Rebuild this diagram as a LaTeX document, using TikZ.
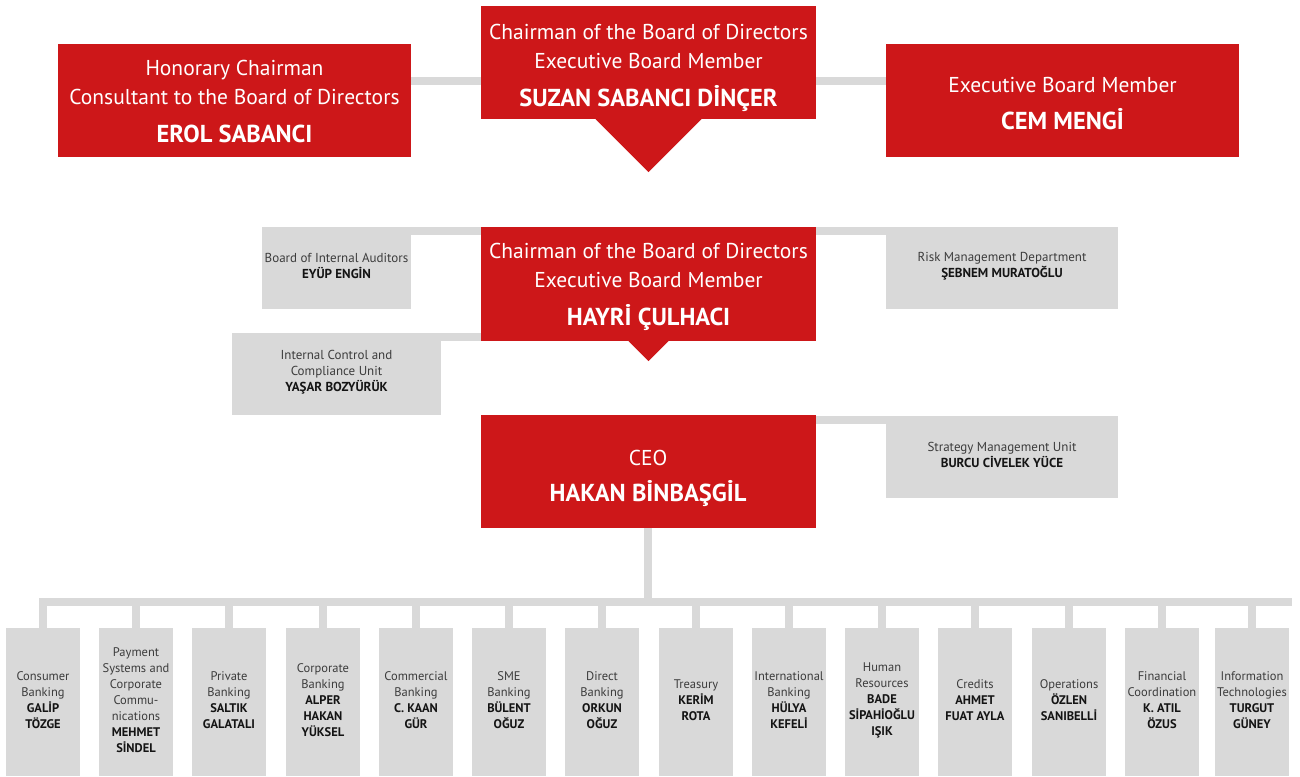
\documentclass[tikz,border=0pt]{standalone}
\usepackage{fontspec}
\setmainfont{PT Sans}
\definecolor{brand}{HTML}{CD1719}
\definecolor{boxgray}{HTML}{D9D9D9}
\definecolor{titlegray}{HTML}{3C3C3C}
\definecolor{namegray}{HTML}{141414}
\newcommand{\nm}[1]{{\bfseries\color{namegray}#1}}
\newcommand{\bn}[1]{{\fontsize{24.5}{28}\selectfont\bfseries #1}}
\begin{document}
\begin{tikzpicture}[x=1pt,y=-1pt,
  conn/.style={draw=boxgray,line width=8pt,line cap=butt},
  redbox/.style={fill=brand,inner sep=0pt},
  redtext/.style={text=white,inner sep=0pt,align=center,font=\fontsize{21.5}{29}\selectfont},
  graybox/.style={fill=boxgray,inner sep=0pt},
  graytext/.style={text=titlegray,inner sep=0pt,align=center,font=\fontsize{13}{16}\selectfont},
  unitbox/.style={graybox,minimum width=74pt,minimum height=148pt},
  unittext/.style={text=titlegray,inner sep=0pt,align=center,font=\fontsize{12.5}{16}\selectfont}]
\useasboundingbox (0,0) rectangle (1300,776);
\coordinate (y81) at (0,81);
\coordinate (busL) at (39,602);
\coordinate (busR) at (1292,602);

% ---------- box shapes ----------
\node[redbox,minimum width=353pt,minimum height=113pt] (erol) at (234.5,100.5) {};
\node[redbox,minimum width=335pt,minimum height=113pt] (suzan) at (648.5,62.5) {};
\node[redbox,minimum width=353pt,minimum height=113pt] (cem) at (1062.5,100.5) {};
\node[redbox,minimum width=335pt,minimum height=114pt] (hayri) at (648.5,284) {};
\node[redbox,minimum width=335pt,minimum height=113pt] (ceo) at (648,471.5) {};
\fill[brand] ([xshift=-53pt]suzan.south) -- ([yshift=-53pt]suzan.south) -- ([xshift=53pt]suzan.south) -- cycle;
\fill[brand] ([xshift=-20pt]hayri.south) -- ([yshift=-20pt]hayri.south) -- ([xshift=20pt]hayri.south) -- cycle;

\node[graybox,minimum width=149pt,minimum height=82pt] (aud) at (336.5,268) {};
\node[graybox,minimum width=209pt,minimum height=82pt] (icu) at (336.5,374) {};
\node[graybox,minimum width=232pt,minimum height=82pt] (risk) at (1002,268) {};
\node[graybox,minimum width=232pt,minimum height=82pt] (strat) at (1002,457) {};

\foreach \i/\x in {1/43,2/136,3/229,4/323,5/416,6/509,7/602,8/696,9/789,10/882,11/975,12/1069,13/1162,14/1252}
  {\node[unitbox] (u\i) at (\x,702) {};}

% ---------- connectors ----------
\draw[conn] (erol.east |- y81) -- (suzan.west |- y81);
\draw[conn] (suzan.east |- y81) -- (cem.west |- y81);
\coordinate (c1) at ([yshift=-4pt]aud.north east);
\coordinate (c2) at ([yshift=-4pt]icu.north east);
\coordinate (c3) at ([yshift=-4pt]risk.north west);
\coordinate (c4) at ([yshift=-4pt]strat.north west);
\draw[conn] (c1) -- (c1 -| hayri.west);
\draw[conn] (c2) -- (c2 -| hayri.west);
\draw[conn] (c3) -- (c3 -| hayri.east);
\draw[conn] (c4) -- (c4 -| ceo.east);
\draw[conn] (ceo.south) -- (ceo.south |- busL);
\draw[conn] (busL) -- (busR);
\foreach \i in {1,...,14} {\draw[conn] (u\i.north) -- (u\i.north |- busL);}

% ---------- texts ----------
\node[redtext] (erolt) at ([yshift=-1.5pt]erol.center)
  {Honorary Chairman\\Consultant to the Board of Directors\\[9pt]\bn{EROL SABANCI}};
\node[redtext] (suzant) at ([yshift=-5.5pt]suzan.center)
  {Chairman of the Board of Directors\\Executive Board Member\\[9pt]\bn{SUZAN SABANCI DİNÇER}};
\node[redtext] (cemt) at ([yshift=-3.5pt]cem.center)
  {Executive Board Member\\[8pt]\bn{CEM MENGİ}};
\node[redtext] (hayrit) at ([yshift=-2.5pt]hayri.center)
  {Chairman of the Board of Directors\\Executive Board Member\\[9pt]\bn{HAYRİ ÇULHACI}};
\node[redtext] (ceot) at ([yshift=-6.5pt]ceo.center)
  {CEO\\[7pt]\bn{HAKAN BİNBAŞGİL}};

\node[graytext] (audt) at ([yshift=2pt]aud.center) {Board of Internal Auditors\\\nm{EYÜP ENGİN}};
\node[graytext] (icut) at ([yshift=2pt]icu.center) {Internal Control and\\Compliance Unit\\\nm{YAŞAR BOZYÜRÜK}};
\node[graytext] (riskt) at ([yshift=2pt]risk.center) {Risk Management Department\\\nm{ŞEBNEM MURATOĞLU}};
\node[graytext] (stratt) at ([yshift=2pt]strat.center) {Strategy Management Unit\\\nm{BURCU CİVELEK YÜCE}};

\node[unittext] (u1t) at ([yshift=2pt]u1.center) {Consumer\\Banking\\\nm{GALİP}\\\nm{TÖZGE}};
\node[unittext] (u2t) at ([yshift=2pt]u2.center) {Payment\\Systems and\\Corporate\\Commu-\\nications\\\nm{MEHMET}\\\nm{SİNDEL}};
\node[unittext] (u3t) at ([yshift=2pt]u3.center) {Private\\Banking\\\nm{SALTIK}\\\nm{GALATALI}};
\node[unittext] (u4t) at ([yshift=2pt]u4.center) {Corporate\\Banking\\\nm{ALPER}\\\nm{HAKAN}\\\nm{YÜKSEL}};
\node[unittext] (u5t) at ([yshift=2pt]u5.center) {Commercial\\Banking\\\nm{C. KAAN}\\\nm{GÜR}};
\node[unittext] (u6t) at ([yshift=2pt]u6.center) {SME\\Banking\\\nm{BÜLENT}\\\nm{OĞUZ}};
\node[unittext] (u7t) at ([yshift=2pt]u7.center) {Direct\\Banking\\\nm{ORKUN}\\\nm{OĞUZ}};
\node[unittext] (u8t) at ([yshift=2pt]u8.center) {Treasury\\\nm{KERİM}\\\nm{ROTA}};
\node[unittext] (u9t) at ([yshift=2pt]u9.center) {International\\Banking\\\nm{HÜLYA}\\\nm{KEFELİ}};
\node[unittext] (u10t) at ([yshift=2pt]u10.center) {Human\\Resources\\\nm{BADE}\\\nm{SİPAHİOĞLU}\\\nm{IŞIK}};
\node[unittext] (u11t) at ([yshift=2pt]u11.center) {Credits\\\nm{AHMET}\\\nm{FUAT AYLA}};
\node[unittext] (u12t) at ([yshift=2pt]u12.center) {Operations\\\nm{ÖZLEN}\\\nm{SANIBELLİ}};
\node[unittext] (u13t) at ([yshift=2pt]u13.center) {Financial\\Coordination\\\nm{K. ATIL}\\\nm{ÖZUS}};
\node[unittext] (u14t) at ([yshift=2pt]u14.center) {Information\\Technologies\\\nm{TURGUT}\\\nm{GÜNEY}};
\end{tikzpicture}
\end{document}
